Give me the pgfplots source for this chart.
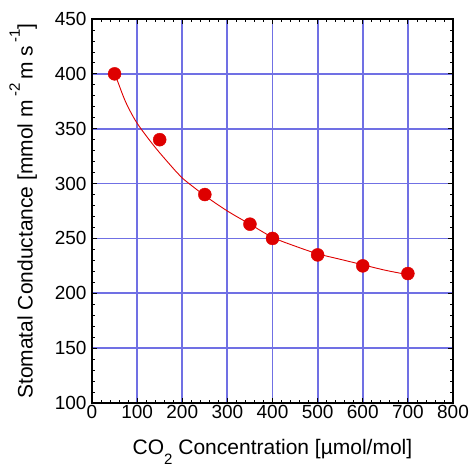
\documentclass[border=0pt]{standalone}
\usepackage{pgfplots}
\pgfplotsset{compat=1.18}
\usepackage{fontspec}
\setmainfont{Liberation Sans}

\definecolor{gridblue}{RGB}{112,112,228}
\definecolor{ptred}{RGB}{222,0,0}

\begin{document}
\begin{tikzpicture}
\begin{axis}[
  name=ax,
  at={(0,0)}, anchor=south west,
  scale only axis,
  width=361pt, height=384pt,
  xmin=0, xmax=800, ymin=100, ymax=450,
  xtick={0,100,...,800}, ytick={100,150,...,450},
  minor x tick num=4, minor y tick num=4,
  tick align=inside,
  major tick length=5pt, minor tick length=3pt,
  tick style={black, line width=0.8pt},
  axis line style={black, line width=1.2pt},
  grid=major,
  major grid style={gridblue, line width=1.8pt},
  /pgf/number format/assume math mode=true,
  tick label style={font=\fontsize{19}{21}\selectfont},
  xticklabel style={yshift=1pt},
  yticklabel style={xshift=-2pt},
  xlabel={CO\raisebox{-0.5em}{\fontsize{15}{16}\selectfont 2} Concentration [µmol/mol]},
  ylabel={Stomatal Conductance [mmol m\,\raisebox{0.6em}{\fontsize{15}{16}\selectfont -2}\,m s\,\raisebox{0.6em}{\fontsize{15}{16}\selectfont -1}]},
  label style={font=\fontsize{21}{23}\selectfont},
  xlabel style={yshift=-13pt},
  ylabel style={yshift=11pt},
]
% fitted response curve
\addplot[ptred, line width=0.9pt, smooth, tension=0.5] coordinates {
  (50,400) (57,393) (75,374) (100,355) (140,333) (184,312) (200,305)
  (250,289) (300,275) (350,263) (400,251) (450,243) (500,236)
  (550,231) (600,226) (650,221) (700,217)
};
% measured stomatal conductance
\addplot[only marks, mark=*, mark size=6.5pt, ptred, mark options={draw=ptred, fill=ptred}] coordinates {
  (50,400) (150,340) (250,290) (350,263) (400,250) (500,235) (600,225) (700,218)
};
\end{axis}
\pgfresetboundingbox
\useasboundingbox ([xshift=-92pt,yshift=-66pt]ax.south west) rectangle ([xshift=18pt,yshift=19pt]ax.north east);
\end{tikzpicture}
\end{document}
